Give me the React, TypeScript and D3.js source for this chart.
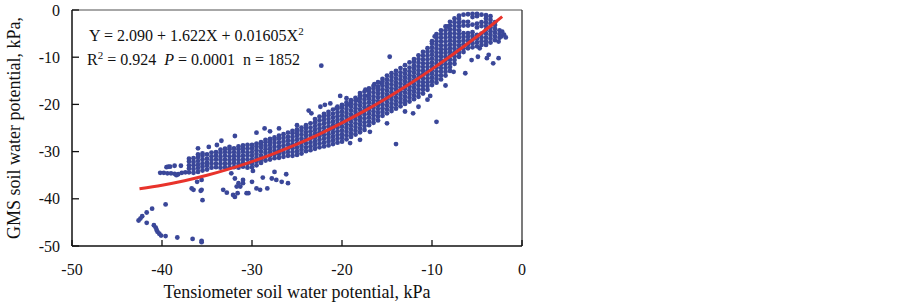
import React from "react";
import * as d3 from "d3";

// ---- Data ----
const xTicks = [-50, -40, -30, -20, -10, 0];
const yTicks = [0, -10, -20, -30, -40, -50];

// regression: Y = 2.090 + 1.622X + 0.01605X^2
const coefA = 2.09;
const coefB = 1.622;
const coefC = 0.01605;
const curveXs = [-42.5, -40, -37.5, -35, -32.5, -30, -27.5, -25, -22.5, -20, -17.5, -15, -12.5, -10, -7.5, -5, -3.5, -2.2];

// dense band: [x, y-values]
const bandColumns: [number, number[]][] = [
  [-37.0, [-34.4, -33.6, -32.9, -32.1, -31.5]],
  [-36.5, [-34.5, -33.7, -32.9, -32.2, -31.4]],
  [-36.0, [-34.3, -33.5, -32.8, -32.0, -31.2, -30.6]],
  [-35.5, [-34.0, -33.2, -32.5, -31.7, -30.9, -30.4]],
  [-35.0, [-33.8, -33.0, -32.3, -31.5, -30.6]],
  [-34.5, [-33.4, -32.6, -31.8, -31.0, -30.2]],
  [-34.0, [-33.3, -32.5, -31.6, -30.8, -30.1]],
  [-33.5, [-33.4, -32.6, -31.8, -31.1, -30.3, -29.6]],
  [-33.0, [-33.3, -32.5, -31.7, -30.9, -30.1, -29.4]],
  [-32.5, [-33.4, -32.6, -31.8, -31.0, -30.2, -29.5, -29.0]],
  [-32.0, [-33.3, -32.4, -31.6, -30.9, -30.1, -29.3]],
  [-31.5, [-33.4, -32.6, -31.8, -31.0, -30.3, -29.5, -28.9]],
  [-31.0, [-33.2, -32.4, -31.6, -30.8, -30.0, -29.3, -28.7]],
  [-30.5, [-33.4, -32.6, -31.7, -30.9, -30.2, -29.4, -28.6]],
  [-30.0, [-33.3, -32.5, -31.7, -30.9, -30.1, -29.3, -28.6]],
  [-29.5, [-32.9, -32.1, -31.3, -30.5, -29.7, -28.9, -28.3]],
  [-29.0, [-32.4, -31.6, -30.8, -30.0, -29.2, -28.5, -28.0]],
  [-28.5, [-31.9, -31.1, -30.3, -29.5, -28.8, -28.0, -27.5]],
  [-28.0, [-31.7, -30.9, -30.1, -29.4, -28.6, -27.9, -27.3]],
  [-27.5, [-31.4, -30.6, -29.8, -29.0, -28.2, -27.5, -27.0]],
  [-27.0, [-31.3, -30.5, -29.7, -28.9, -28.1, -27.3, -26.6]],
  [-26.5, [-31.1, -30.3, -29.5, -28.7, -27.9, -27.1, -26.3]],
  [-26.0, [-30.9, -30.1, -29.3, -28.5, -27.7, -26.9, -26.0]],
  [-25.5, [-30.9, -30.1, -29.3, -28.5, -27.7, -26.9, -26.1, -25.6]],
  [-25.0, [-30.7, -29.9, -29.1, -28.3, -27.5, -26.7, -26.0, -25.3]],
  [-24.5, [-30.4, -29.6, -28.8, -28.0, -27.2, -26.4, -25.6, -24.9]],
  [-24.0, [-29.9, -29.1, -28.3, -27.5, -26.7, -25.9, -25.1, -24.4]],
  [-23.5, [-29.7, -28.9, -28.1, -27.3, -26.5, -25.7, -24.9, -24.0]],
  [-23.0, [-29.4, -28.6, -27.8, -27.0, -26.2, -25.4, -24.6, -23.8, -23.1]],
  [-22.5, [-29.1, -28.3, -27.5, -26.7, -25.9, -25.1, -24.3, -23.4, -22.6]],
  [-22.0, [-28.9, -28.1, -27.3, -26.5, -25.7, -24.9, -24.1, -23.3, -22.5, -22.0]],
  [-21.5, [-28.7, -27.9, -27.1, -26.3, -25.5, -24.7, -23.9, -23.1, -22.3, -21.6]],
  [-21.0, [-28.4, -27.6, -26.8, -26.0, -25.2, -24.4, -23.6, -22.8, -22.0, -21.1]],
  [-20.5, [-28.1, -27.3, -26.5, -25.7, -24.9, -24.1, -23.3, -22.5, -21.7, -20.9, -20.5]],
  [-20.0, [-27.9, -27.1, -26.3, -25.5, -24.7, -23.9, -23.1, -22.3, -21.5, -20.7, -20.1]],
  [-19.5, [-27.4, -26.6, -25.8, -25.0, -24.2, -23.4, -22.6, -21.8, -21.0, -20.2, -19.6]],
  [-19.0, [-26.9, -26.1, -25.3, -24.5, -23.7, -22.9, -22.1, -21.3, -20.5, -19.7, -19.1]],
  [-18.5, [-26.4, -25.6, -24.8, -24.0, -23.2, -22.4, -21.6, -20.8, -20.0, -19.2, -18.6]],
  [-18.0, [-25.9, -25.1, -24.3, -23.5, -22.7, -21.9, -21.1, -20.3, -19.5, -18.7, -18.1]],
  [-17.5, [-25.4, -24.6, -23.8, -23.0, -22.2, -21.4, -20.6, -19.8, -19.0, -18.2, -17.3]],
  [-17.0, [-24.4, -23.6, -22.8, -22.0, -21.2, -20.4, -19.6, -18.8, -18.0, -17.2, -16.6]],
  [-16.5, [-23.9, -23.1, -22.3, -21.5, -20.7, -19.9, -19.1, -18.3, -17.5, -16.7, -16.1]],
  [-16.0, [-23.4, -22.6, -21.8, -21.0, -20.2, -19.4, -18.6, -17.8, -17.0, -16.2, -15.3]],
  [-15.5, [-22.4, -21.6, -20.8, -20.0, -19.2, -18.4, -17.6, -16.8, -16.0, -15.2, -14.6]],
  [-15.0, [-21.9, -21.1, -20.3, -19.5, -18.7, -17.9, -17.1, -16.3, -15.5, -14.7, -13.9]],
  [-14.5, [-21.4, -20.6, -19.8, -19.0, -18.2, -17.4, -16.6, -15.8, -15.0, -14.2, -13.4]],
  [-14.0, [-20.9, -20.1, -19.3, -18.5, -17.7, -16.9, -16.1, -15.3, -14.5, -13.7, -12.9]],
  [-13.5, [-20.4, -19.6, -18.8, -18.0, -17.2, -16.4, -15.6, -14.8, -14.0, -13.2, -12.3]],
  [-13.0, [-19.9, -19.1, -18.3, -17.5, -16.7, -15.9, -15.1, -14.3, -13.5, -12.7, -11.7]],
  [-12.5, [-19.4, -18.6, -17.8, -17.0, -16.2, -15.4, -14.6, -13.8, -13.0, -12.2, -11.1]],
  [-12.0, [-18.9, -18.1, -17.3, -16.5, -15.7, -14.9, -14.1, -13.3, -12.5, -11.7, -10.9, -10.4]],
  [-11.5, [-18.4, -17.6, -16.8, -16.0, -15.2, -14.4, -13.6, -12.8, -12.0, -11.2, -10.4, -9.6]],
  [-11.0, [-17.7, -16.9, -16.1, -15.3, -14.5, -13.7, -12.9, -12.1, -11.3, -10.5, -9.7, -8.9]],
  [-10.5, [-16.9, -16.1, -15.3, -14.5, -13.7, -12.9, -12.1, -11.3, -10.5, -9.7, -8.9, -8.1]],
  [-10.0, [-15.9, -15.1, -14.3, -13.5, -12.7, -11.9, -11.1, -10.3, -9.5, -8.7, -7.9, -7.1, -6.6]],
  [-9.5, [-15.4, -14.6, -13.8, -13.0, -12.2, -11.4, -10.6, -9.8, -9.0, -8.2, -7.4, -6.6, -5.8, -5.1]],
  [-9.0, [-14.7, -13.9, -13.1, -12.3, -11.5, -10.7, -9.9, -9.1, -8.3, -7.5, -6.7, -5.9, -5.1, -4.3]],
  [-8.5, [-13.9, -13.1, -12.3, -11.5, -10.7, -9.9, -9.1, -8.3, -7.5, -6.7, -5.9, -5.1, -4.3, -3.5]],
  [-8.0, [-12.9, -12.1, -11.3, -10.5, -9.7, -8.9, -8.1, -7.3, -6.5, -5.7, -4.9, -4.1, -3.3, -2.5]],
  [-7.5, [-11.4, -10.6, -9.8, -9.0, -8.2, -7.4, -6.6, -5.8, -5.0, -4.2, -3.4, -2.6, -1.8]],
  [-7.0, [-9.9, -9.1, -8.3, -7.5, -6.7, -5.9, -5.1, -4.3, -3.5, -2.7, -1.9, -1.2]],
  [-6.5, [-8.9, -8.1, -7.3, -6.5, -5.7, -4.9, -3.3, -2.5, -1.0]],
  [-6.0, [-8.1, -7.3, -6.5, -5.7, -4.9, -3.3, -2.5, -0.9]],
  [-5.5, [-7.9, -7.1, -6.3, -5.5, -4.7, -3.1, -1.5, -0.8]],
  [-5.0, [-7.7, -6.9, -6.1, -5.3, -3.7, -2.9, -1.3, -0.8]],
  [-4.5, [-7.4, -6.6, -5.8, -5.0, -3.4, -2.6, -1.0]],
  [-4.0, [-7.4, -6.6, -5.8, -5.0, -4.2, -3.4, -2.6, -1.8, -1.1]],
  [-3.5, [-6.9, -6.1, -5.3, -4.5, -3.7, -2.9, -2.1, -1.3]],
  [-3.0, [-6.4, -5.6, -4.8, -4.0, -3.2, -2.6]],
  [-2.5, [-5.9, -5.1, -4.3]],
];

const hookPoints: [number, number][] = [
  [-42.6, -44.6], [-42.4, -44.2], [-42.2, -43.7], [-41.7, -42.9], [-41.1, -42.1], [-39.6, -41.2],
  [-41.7, -45.1], [-40.9, -45.6], [-40.7, -46.1], [-40.6, -46.6], [-40.5, -47.0], [-40.3, -47.4],
  [-40.1, -47.8], [-39.6, -47.9], [-38.3, -48.2], [-36.6, -48.5], [-35.6, -48.9], [-35.6, -49.2],
];

const leftCluster: [number, number][] = [
  [-40.2, -34.5], [-39.8, -34.5], [-39.4, -34.6], [-39.0, -34.6], [-38.6, -34.7], [-38.2, -34.8],
  [-37.8, -34.5], [-37.4, -34.4], [-39.5, -33.3], [-39.1, -33.2], [-38.6, -33.0], [-37.9, -33.0],
  [-38.4, -35.0], [-39.3, -33.2],
];

const lowerScatter: [number, number][] = [
  [-36.7, -37.8], [-36.5, -38.1], [-35.7, -38.3], [-35.5, -40.3], [-36.1, -36.4], [-35.6, -36.0],
  [-33.2, -38.1], [-32.8, -38.7], [-31.9, -39.6], [-31.6, -38.8], [-31.3, -37.4], [-31.0, -36.7],
  [-30.6, -38.8], [-29.5, -37.8], [-32.3, -34.6], [-31.9, -35.7], [-31.5, -36.7], [-35.6, -38.1],
  [-32.1, -39.2], [-31.7, -37.4], [-31.0, -36.0], [-30.4, -38.8], [-30.0, -36.4], [-29.1, -38.1],
  [-28.3, -37.8], [-27.8, -35.7], [-27.3, -36.0], [-26.7, -36.4], [-26.2, -34.8], [-26.0, -36.7],
  [-29.9, -34.1], [-28.8, -35.5], [-27.5, -34.3],
];

const upperScatter: [number, number][] = [
  [-33.9, -28.6], [-33.4, -27.7], [-31.9, -26.7], [-29.5, -26.0], [-28.6, -25.1], [-28.0, -25.7],
  [-27.0, -25.1], [-25.0, -24.4], [-23.7, -21.3], [-23.4, -21.9], [-22.4, -20.5], [-21.9, -20.1],
  [-21.3, -19.8], [-20.6, -20.8], [-20.2, -18.2], [-19.5, -18.7], [-19.1, -20.1], [-18.4, -19.1],
  [-18.0, -17.6], [-17.4, -16.9], [-17.1, -18.2], [-16.4, -15.7], [-16.0, -16.4], [-15.6, -15.5],
  [-22.3, -11.8], [-14.7, -9.9], [-9.7, -5.6], [-8.3, -3.5], [-36.0, -29.3], [-34.8, -29.0],
];

const rightScatter: [number, number][] = [
  [-19.1, -28.2], [-18.0, -27.5], [-16.9, -25.8], [-15.0, -24.0], [-12.1, -21.9], [-13.0, -21.5],
  [-9.5, -23.7], [-6.3, -13.4], [-7.6, -13.1], [-5.6, -10.6], [-4.9, -9.9], [-4.7, -8.1],
  [-3.9, -10.2], [-3.7, -9.5], [-3.2, -11.3], [-2.6, -10.2], [-2.6, -6.7], [-2.3, -5.6],
  [-14.0, -28.4], [-11.5, -20.5], [-10.5, -19.0], [-8.5, -16.0], [-10.2, -18.2],
  [-2.0, -5.2], [-1.8, -5.8], [-2.2, -4.6],
];

const W = 903;
const H = 304;
const M = { left: 72, right: 522, top: 10, bottom: 246 };
const DOT = "#3a4799";
const RED = "#e8332b";
const FONT = "'Liberation Serif', 'Times New Roman', serif";

export default function App() {
  const x = d3.scaleLinear().domain([-50, 0]).range([M.left, M.right]);
  const y = d3.scaleLinear().domain([0, -50]).range([M.top, M.bottom]);

  const points: [number, number][] = [
    ...bandColumns.flatMap(([cx, ys]) => ys.map((v) => [cx, v] as [number, number])),
    ...hookPoints,
    ...leftCluster,
    ...lowerScatter,
    ...upperScatter,
    ...rightScatter,
  ];

  const curve = d3
    .line<number>()
    .x((d) => x(d))
    .y((d) => y(coefA + coefB * d + coefC * d * d))
    .curve(d3.curveMonotoneX);

  return (
    <svg
      width={W}
      height={H}
      style={{ position: "absolute", left: 0, top: 0, background: "#fff" }}
      fontFamily={FONT}
    >
      <rect x={0} y={0} width={W} height={H} fill="#fff" />
      {/* points */}
      <g fill={DOT}>
        {points.map((p, i) => (
          <circle key={i} cx={x(p[0])} cy={y(p[1])} r={2.4} />
        ))}
      </g>
      {/* regression curve */}
      <path d={curve(curveXs) || ""} fill="none" stroke={RED} strokeWidth={3} />

      {/* frame */}
      <line x1={M.left} x2={M.right} y1={M.top} y2={M.top} stroke="#8a8a8a" strokeWidth={1.3} />
      <line x1={M.right} x2={M.right} y1={M.top} y2={M.bottom} stroke="#333" strokeWidth={1.3} />
      <line x1={M.left} x2={M.left} y1={M.top} y2={M.bottom} stroke="#111" strokeWidth={1.5} />
      <line x1={M.left} x2={M.right} y1={M.bottom} y2={M.bottom} stroke="#111" strokeWidth={1.5} />

      {/* x ticks */}
      {xTicks.map((t) => (
        <g key={"xt" + t}>
          <line x1={x(t)} x2={x(t)} y1={M.bottom} y2={M.bottom - 6} stroke="#111" strokeWidth={1.3} />
          <text x={x(t)} y={275} fontSize={16} textAnchor="middle" fill="#111">
            {t}
          </text>
        </g>
      ))}
      {/* y ticks */}
      {yTicks.map((t) => (
        <g key={"yt" + t}>
          <line x1={M.left} x2={M.left + 7} y1={y(t)} y2={y(t)} stroke="#111" strokeWidth={1.3} />
          <text x={60} y={y(t)} dy="0.35em" fontSize={16} textAnchor="end" fill="#111">
            {t}
          </text>
        </g>
      ))}

      {/* axis titles */}
      <text x={297} y={298} fontSize={18} textAnchor="middle" fill="#111">
        Tensiometer soil water potential, kPa
      </text>
      <text transform="translate(20,128) rotate(-90)" fontSize={18} textAnchor="middle" fill="#111">
        GMS soil water potential, kPa,
      </text>

      {/* equation */}
      <text x={89} y={41} fontSize={16} fill="#111" style={{ whiteSpace: "pre" }}>
        {"Y = 2.090 + 1.622X + 0.01605X"}
        <tspan fontSize={11} dy={-6}>2</tspan>
      </text>
      <text x={87} y={65} fontSize={16} fill="#111" style={{ whiteSpace: "pre" }}>
        {"R"}
        <tspan fontSize={11} dy={-6}>2</tspan>
        <tspan dy={6}>{" = 0.924  "}</tspan>
        <tspan fontStyle="italic">P</tspan>
        <tspan>{" = 0.0001  n = 1852"}</tspan>
      </text>
    </svg>
  );
}
